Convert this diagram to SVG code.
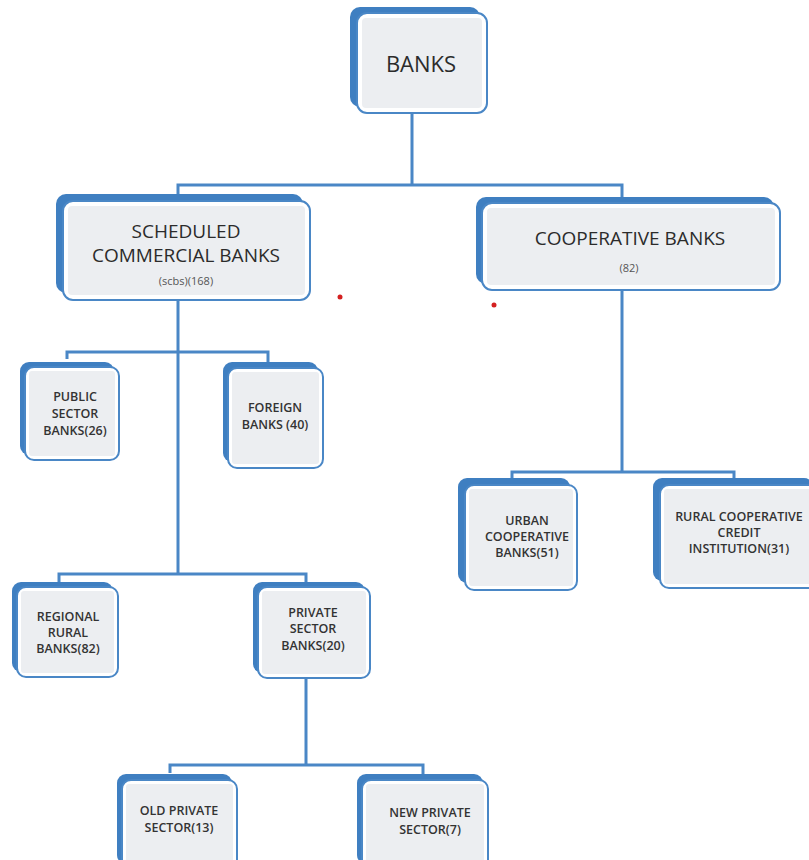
<svg xmlns="http://www.w3.org/2000/svg" width="809" height="860" viewBox="0 0 809 860">
<style>
.sh{fill:#3f7fc1}
.fr{fill:#ffffff;stroke:#4a87c6;stroke-width:2}
.in{fill:#eceef1}
.con{fill:none;stroke:#4a87c6;stroke-width:3}
.big{font-family:"Open Sans","Noto Sans",sans-serif;fill:#2b2b2b;text-anchor:middle}
.sm{font-family:"Open Sans","Noto Sans",sans-serif;font-weight:600;font-size:12.5px;fill:#333;text-anchor:middle}
.tiny{font-family:"Open Sans","Noto Sans",sans-serif;font-size:11px;fill:#555;text-anchor:middle}
</style>
<rect width="809" height="860" fill="#ffffff"/>
<g id="connectors">
<path class="con" d="M412,113 V185 M178,194 V185 H622 V198"/>
<path class="con" d="M178,300 V574 M67,359 V352 H268 V363 M59,582 V574 H306 V583"/>
<path class="con" d="M622,290 V472 M512,479 V472 H734 V480"/>
<path class="con" d="M306,678 V765 M170,773 V765 H423 V774"/>
</g>
<g id="banks">
<rect class="sh" x="350" y="7" width="130" height="100" rx="10"/>
<rect class="fr" x="357" y="13" width="130" height="100" rx="10"/>
<rect class="in" x="362" y="18" width="120" height="90" rx="4"/>
<text class="big" x="421" y="72" font-size="22">BANKS</text>
</g>
<g id="scb">
<rect class="sh" x="56" y="194" width="247" height="99" rx="10"/>
<rect class="fr" x="63" y="201" width="247" height="99" rx="10"/>
<rect class="in" x="68" y="206" width="237" height="89" rx="4"/>
<text class="big" x="186" y="238" font-size="19">SCHEDULED</text>
<text class="big" x="186" y="262" font-size="19">COMMERCIAL BANKS</text>
<text class="tiny" x="186" y="285">(scbs)(168)</text>
</g>
<g id="coop">
<rect class="sh" x="476" y="197" width="298" height="87" rx="10"/>
<rect class="fr" x="482" y="203" width="298" height="87" rx="10"/>
<rect class="in" x="487" y="208" width="288" height="77" rx="4"/>
<text class="big" x="630" y="245" font-size="19">COOPERATIVE BANKS</text>
<text class="tiny" x="629" y="272">(82)</text>
</g>
<g id="public">
<rect class="sh" x="20" y="362" width="94" height="93" rx="9"/>
<rect class="fr" x="25" y="367" width="94" height="93" rx="9"/>
<rect class="in" x="29" y="371" width="86" height="85" rx="3"/>
<text class="sm" x="75" y="401">PUBLIC</text>
<text class="sm" x="75" y="418">SECTOR</text>
<text class="sm" x="75" y="435">BANKS(26)</text>
</g>
<g id="foreign">
<rect class="sh" x="223" y="362" width="95" height="100" rx="9"/>
<rect class="fr" x="228" y="368" width="95" height="100" rx="9"/>
<rect class="in" x="232" y="372" width="87" height="92" rx="3"/>
<text class="sm" x="275" y="412">FOREIGN</text>
<text class="sm" x="275" y="429">BANKS (40)</text>
</g>
<g id="urban">
<rect class="sh" x="458" y="478" width="112" height="105" rx="9"/>
<rect class="fr" x="465" y="485" width="112" height="105" rx="9"/>
<rect class="in" x="469" y="489" width="104" height="97" rx="3"/>
<text class="sm" x="527" y="525">URBAN</text>
<text class="sm" x="527" y="541">COOPERATIVE</text>
<text class="sm" x="527" y="557">BANKS(51)</text>
</g>
<g id="rural">
<rect class="sh" x="653" y="478" width="160" height="103" rx="9"/>
<rect class="fr" x="660" y="485" width="160" height="103" rx="9"/>
<rect class="in" x="664" y="489" width="152" height="95" rx="3"/>
<text class="sm" x="739" y="521">RURAL COOPERATIVE</text>
<text class="sm" x="739" y="537">CREDIT</text>
<text class="sm" x="739" y="553">INSTITUTION(31)</text>
</g>
<g id="regional">
<rect class="sh" x="12" y="582" width="101" height="90" rx="9"/>
<rect class="fr" x="17" y="587" width="101" height="90" rx="9"/>
<rect class="in" x="21" y="591" width="93" height="82" rx="3"/>
<text class="sm" x="68" y="621">REGIONAL</text>
<text class="sm" x="68" y="637">RURAL</text>
<text class="sm" x="68" y="653">BANKS(82)</text>
</g>
<g id="private">
<rect class="sh" x="253" y="582" width="112" height="91" rx="9"/>
<rect class="fr" x="258" y="587" width="112" height="91" rx="9"/>
<rect class="in" x="262" y="591" width="104" height="83" rx="3"/>
<text class="sm" x="313" y="617">PRIVATE</text>
<text class="sm" x="313" y="633">SECTOR</text>
<text class="sm" x="313" y="650">BANKS(20)</text>
</g>
<g id="oldprivate">
<rect class="sh" x="117" y="774" width="115" height="90" rx="9"/>
<rect class="fr" x="122" y="780" width="115" height="90" rx="9"/>
<rect class="in" x="126" y="784" width="107" height="82" rx="3"/>
<text class="sm" x="179" y="815">OLD PRIVATE</text>
<text class="sm" x="179" y="832">SECTOR(13)</text>
</g>
<g id="newprivate">
<rect class="sh" x="357" y="774" width="126" height="90" rx="9"/>
<rect class="fr" x="362" y="780" width="126" height="90" rx="9"/>
<rect class="in" x="366" y="784" width="118" height="82" rx="3"/>
<text class="sm" x="430" y="817">NEW PRIVATE</text>
<text class="sm" x="430" y="834">SECTOR(7)</text>
</g>
<circle cx="340" cy="297" r="2.5" fill="#d42020"/>
<circle cx="494" cy="305" r="2.5" fill="#d42020"/>
</svg>
